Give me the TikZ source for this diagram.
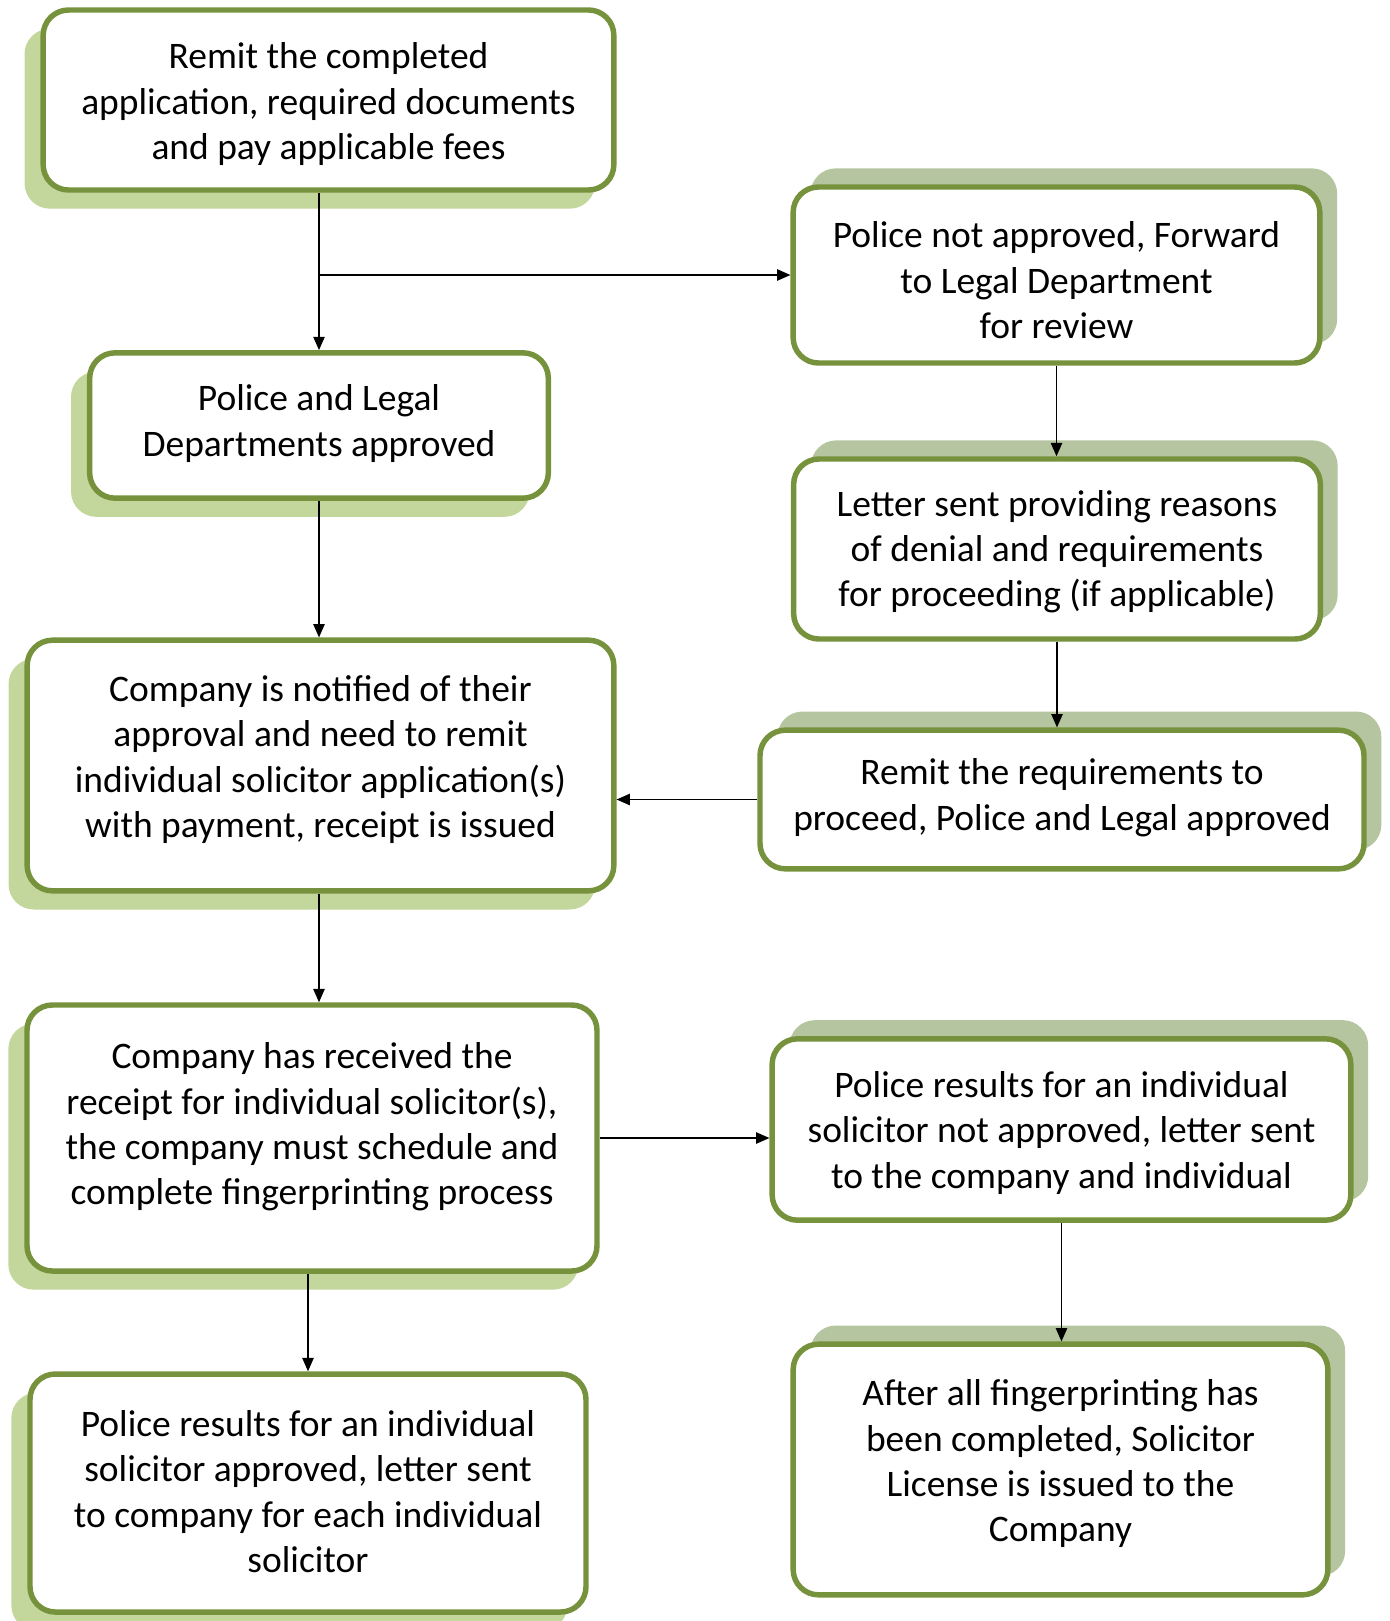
\documentclass[tikz,border=0pt]{standalone}
\usepackage{fontspec}
\setmainfont{Carlito}
\usetikzlibrary{arrows.meta,shadows}

\definecolor{boxline}{RGB}{118,146,60}
\definecolor{shadeleft}{RGB}{195,214,155}
\definecolor{shaderight}{RGB}{181,197,160}

\tikzset{every picture/.style={line width=0.75pt}}
\tikzset{
  procbox/.style={draw=boxline, line width=4.1pt, fill=white, rounded corners=19pt,
    align=center, inner sep=0pt, font=\fontsize{28.1}{34}\selectfont},
  textdrop/.style={text height=#1, text depth=0pt},
  leftshade/.style={general shadow={fill=shadeleft, shadow xshift=-14pt, shadow yshift=-14pt}},
  rightshade/.style={general shadow={fill=shaderight, shadow xshift=13pt, shadow yshift=14pt}},
  flow/.style={line width=1.1pt, -{Triangle[length=10pt,width=8.5pt]}}
}

\begin{document}
\begin{tikzpicture}[x=0.75pt,y=0.75pt,yscale=-1,xscale=1]
\useasboundingbox (0,0) rectangle (1389,1621);

%Left column
\node (remit) [procbox, leftshade, textdrop=89.4pt, minimum width=428pt, minimum height=135pt] at (328.5,100)
  {Remit the completed\\application, required documents\\and pay applicable fees};
\node (approved) [procbox, leftshade, textdrop=46pt, minimum width=344pt, minimum height=109pt] at (319,425.5)
  {Police and Legal\\Departments approved};
\node (notified) [procbox, leftshade, textdrop=107.8pt, minimum width=440pt, minimum height=188pt] at (320.5,765.5)
  {Company is notified of their\\approval and need to remit\\individual solicitor application(s)\\with payment, receipt is issued};
\node (receipt) [procbox, leftshade, textdrop=100pt, minimum width=427.5pt, minimum height=199.5pt] at (312,1138)
  {Company has received the\\receipt for individual solicitor(s),\\the company must schedule and\\complete fingerprinting process};
\node (results) [procbox, leftshade, textdrop=119.1pt, minimum width=417pt, minimum height=178.5pt] at (308,1493)
  {Police results for an individual\\solicitor approved, letter sent\\to company for each individual\\solicitor};

%Right column
\node (forward) [procbox, rightshade, textdrop=95.3pt, minimum width=395pt, minimum height=132pt] at (1056.5,275)
  {Police not approved, Forward\\to Legal Department\\for review};
\node (letter) [procbox, rightshade, textdrop=86.7pt, minimum width=395pt, minimum height=135pt] at (1057,549)
  {Letter sent providing reasons\\of denial and requirements\\for proceeding (if applicable)};
\node (proceed) [procbox, rightshade, textdrop=46pt, minimum width=453pt, minimum height=104pt] at (1062,799.5)
  {Remit the requirements to\\proceed, Police and Legal approved};
\node (denied) [procbox, rightshade, textdrop=87.8pt, minimum width=434pt, minimum height=136pt] at (1061.5,1129.5)
  {Police results for an individual\\solicitor not approved, letter sent\\to the company and individual};
\node (license) [procbox, rightshade, textdrop=108.6pt, minimum width=401pt, minimum height=188pt] at (1060.5,1469.5)
  {After all fingerprinting has\\been completed, Solicitor\\License is issued to the\\Company};

%Connectors
\coordinate (fork) at (approved.north |- forward.west);
\draw [flow] (approved.north |- remit.south) -- (approved.north);
\draw [flow] (fork) -- (forward.west);
\draw [flow] (approved.south) -- (approved.south |- notified.north);
\draw [flow] (forward.south) -- (forward.south |- letter.north);
\draw [flow] (letter.south) -- (letter.south |- proceed.north);
\draw [flow] (proceed.west) -- (proceed.west -| notified.east);
\draw [flow] (approved.south |- notified.south) -- (approved.south |- receipt.north);
\draw [flow] (receipt.east) -- (receipt.east -| denied.west);
\draw [flow] (results.north |- receipt.south) -- (results.north);
\draw [flow] (denied.south) -- (denied.south |- license.north);

\end{tikzpicture}
\end{document}
